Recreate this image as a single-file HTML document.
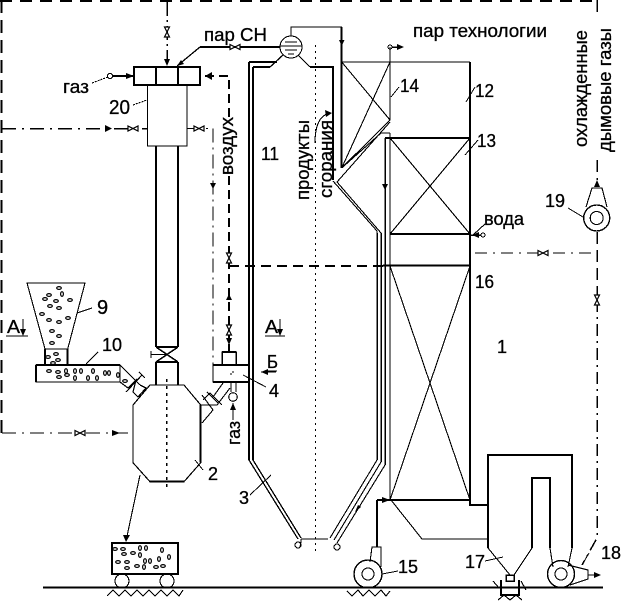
<!DOCTYPE html>
<html><head><meta charset="utf-8"><style>
html,body{margin:0;padding:0;background:#fff}
svg{display:block}
text{font-family:"Liberation Sans",sans-serif;font-size:18px;fill:#000;stroke:#000;stroke-width:.3px}
</style></head><body>
<svg width="621" height="602" viewBox="0 0 621 602" xmlns="http://www.w3.org/2000/svg">
<defs>
<g id="vh"><path d="M-5,-2.5 L5,2.5 L5,-2.5 L-5,2.5 Z" fill="#fff" stroke="#000" stroke-width="1.2"/></g>
<g id="vv"><path d="M-2.5,-5 L2.5,5 L-2.5,5 L2.5,-5 Z" fill="#fff" stroke="#000" stroke-width="1.2"/></g>
<ellipse id="p" cx="0" cy="0" rx="2.3" ry="1.4" fill="#fff" stroke="#000" stroke-width="1.2"/>
<ellipse id="q" cx="0" cy="0" rx="1.4" ry="2.3" fill="#fff" stroke="#000" stroke-width="1.2"/>
</defs>
<g fill="none" stroke="#000" stroke-width="1.1" shape-rendering="crispEdges">
<!-- outer dash lines -->
<path d="M0,1 H597" stroke-width="2" stroke-dasharray="12 8"/>
<path d="M1.500,0 V433" stroke-width="2.200" stroke-dasharray="13 7"/>
<path d="M167,2 V66" stroke-width="1.500" stroke-dasharray="14 4 2 4"/>
<path d="M597,0 V18 M597,160 V180 M597,232 V298" stroke-width="1.500" stroke-dasharray="12 6"/>
<path d="M597,300 V538 L582,565" stroke-width="1.500" stroke-dasharray="12 5 2 5"/>
<path d="M475,253 H597" stroke-dasharray="12 6 2 6"/>
<path d="M2,128.500 H147" stroke-width="1.500" stroke-dasharray="14 6 2 6"/>
<path d="M2,433 H133" stroke-dasharray="14 6 2 6"/>
<path d="M187,128.500 H213 V365" stroke-dasharray="14 5 2 5"/>
<path d="M205,76 H229 V117" stroke-width="1.800" stroke-dasharray="9 5"/>
<path d="M229,176 V352" stroke-width="1.800" stroke-dasharray="9 5"/>
<path d="M229,266 H383" stroke-width="1.800" stroke-dasharray="10 6"/>
<!-- dotted centre lines -->
<path d="M166.700,379 V489" stroke-dasharray="3 4"/>
<path d="M315.500,45 V553" stroke-dasharray="2 4"/>
<path d="M231,375 V372 H236" stroke-dasharray="2 2"/>

<!-- steam -->
<path d="M200,47 H280" stroke-width="2"/>
<path d="M200,47 L177,66" stroke-width="1.300"/>
<path d="M291,36 V27 H342" stroke-width="1.100"/>
<circle cx="291" cy="47" r="11" fill="#fff"/>
<path d="M280,46 H302 M285,42 H297 M285,50 H297 M288,54 H294" stroke-width="1"/>

<!-- burner 20 -->
<rect x="134" y="67" width="66" height="18" stroke-width="2"/>
<path d="M156,67 V85 M178,67 V85" stroke-width="2"/>
<rect x="147.500" y="85" width="39.500" height="61" stroke-width="1.200"/>
<path d="M156,146 V347 M178,146 V347" stroke-width="2"/>
<path d="M156,347 L178,362 M178,347 L156,362" stroke-width="1.500"/>
<path d="M156,362 V385 M178,362 V385 M156,347 H178 M156,362 H178" stroke-width="2"/>
<path d="M151,354.500 H167 M151,351 V358" stroke-width="1.100"/>
<path d="M110,76 H134" stroke-width="1.600"/>
<circle cx="110" cy="76" r="2.500" fill="#fff"/>
<path d="M92,83 L108,77 M133,105 L147,100" stroke-dasharray="2 1"/>

<!-- reactor 2 -->
<path d="M150,385 H184 L200.700,405 V462.700 L184,481.700 H150 L133,462.700 V405 Z" fill="none" stroke-width="1.200"/>
<path d="M150,481.700 H184 M200.700,405 V462.700" stroke-width="2"/>
<path d="M140,475 L126,541"/>

<!-- bin 9 and screw 10 -->
<path d="M27,283 H85 L67.700,349 H45 Z" stroke-width="1.100"/>
<path d="M45,349 V365 M67.700,349 V365" stroke-width="2"/>
<rect x="36" y="365" width="84" height="17" stroke-width="1.300"/>
<path d="M36,365 H120 M36,365 V382" stroke-width="2"/>
<path d="M120,365 L140,385 M120,382 L128,388 M133,392 L138,397 L146,388 L140,385 M126,392 L142,375 M139,372 L145,378" stroke-width="1.200"/>
<path d="M128,388 L136,380 L133,392" stroke-width="1.200"/>

<!-- burner 4 -->
<rect x="222" y="352" width="14" height="13" stroke-width="1.500"/>
<rect x="213" y="365" width="36" height="17" stroke-width="1.300"/>
<path d="M213,382 H249 M222,352 H236 M213,365 H249" stroke-width="2"/>
<path d="M231,382 V392 M236,382 V392" stroke-width="1.300"/>
<circle cx="233" cy="397" r="4.300" fill="#fff"/>
<path d="M233,403 V420"/>
<path d="M223,383 L213,397 M230,388 L217,405 H200.700 M213,410 L202,423 M202,395 L213,410 M207,392 L218,403 M203,400 L210,393 M222,405 L210,393" stroke-width="1.100"/>

<!-- furnace -->
<path d="M249,460 L298,539 M253,460 L301,538" stroke-width="1.300"/>
<path d="M270,67 L283,55" stroke-width="1.300"/>
<path d="M249,62 H277 M253,67 H270 M249,62 V460 M253,67 V460" stroke-width="2"/>
<circle cx="298" cy="545" r="3" fill="#fff"/>
<path d="M301,539 H328 M300,547 Q301,542 301,539"/>
<path d="M298,55 L310,67" stroke-width="1.200"/>
<path d="M310,67 H333 V180" stroke-width="2"/>
<path d="M341.700,27 V168" stroke-width="2"/>
<path d="M341,62 H470" stroke-width="1.100"/>
<path d="M470,62 V500 V505 H488" stroke-width="2"/>

<!-- 14 -->
<path d="M341.700,62 L390,120 L341.700,168 L390,62 M390,47 V120"/>
<path d="M341.700,168 L381,133 H390 M337,182 L390,122 M333,181 L377,231"/>
<path d="M377,231 V460 L330,538" />
<path d="M337,182 L381,233 V462 L334,540"/>
<path d="M385,138 V465 L337,543"/>
<path d="M377,233 V460 M381,233 V462 M385,138 V465" stroke-width="1.500"/>
<path d="M390,133 V500"/>
<circle cx="390" cy="47" r="2"/>
<path d="M392,47 H402" stroke-width="1.500"/>
<circle cx="337" cy="547" r="3" fill="#fff"/>

<!-- 13 and 16 -->
<path d="M385,138 H470 M390,234 H470 M383,265.700 H470" stroke-width="2"/>
<path d="M390,138 L470,234 M470,138 L390,234 M390,266 L470,500 M470,266 L390,500"/>
<circle cx="483" cy="235" r="2"/>
<path d="M470,235 H481" stroke-width="1.500"/>
<path d="M473,235 L485,224"/>
<path d="M377,500 H470" stroke-width="2"/>
<path d="M377,500 V547" stroke-width="2"/>
<path d="M391,500 L422,539 H488"/>

<!-- fan 15 -->
<circle cx="368" cy="574" r="14" fill="#fff" stroke-width="1.400"/>
<circle cx="368" cy="574" r="6"/>
<path d="M370,562 L372,547 H381 V567"/>

<!-- cyclone 17 -->
<path d="M488,548 V455 H572 V548 M532,548 V478 H550 V548" stroke-width="2"/>
<path d="M488,548 L510,575 M532,548 L514,575 M550,548 L553,567 M572,548 L568,567"/>
<rect x="506" y="575" width="8" height="6" stroke-width="1.500"/>
<path d="M501,580 V595 H519 V580" stroke-width="2"/>

<!-- fan 18 -->
<circle cx="561" cy="574" r="13.500" fill="none" stroke-width="1.400"/>
<circle cx="561" cy="574" r="6"/>
<path d="M568,565 L588,570 V579 L570,585 M588,575 H598"/>

<!-- fan 19 -->
<circle cx="596.700" cy="218" r="13" stroke-width="1.400"/>
<circle cx="596.700" cy="218" r="6.500"/>
<path d="M586,207 L592,188 H602 L607,207"/>

<!-- cart -->
<rect x="112" y="543" width="66" height="31" stroke-width="2"/>
<circle cx="122" cy="581" r="7"/>
<circle cx="167" cy="581" r="7"/>

<!-- ground -->
<path d="M43,587.500 H603" stroke-width="2"/>
<path d="M107,596 L113,590 L119,596 L125,590 L131,596 L137,590 L143,596 L149,590 L155,596 L161,590 L167,596 L173,590 L179,596 L183,590"/>
<path d="M347,591 L352,596 L358,590 L363,596 L369,590 L375,596 L381,590 L386,596 L390,591"/>
<path d="M493,581 L499,588 M521,581 L526,590 M498,600 L504,595 L510,600 L516,595 L522,600"/>

<!-- leaders -->
<path d="M391,97 L399,87 M466,102 L475,87 M465,155 L478,140 M568,208 L583,217 M382,574 L398,571 M485,561 L503,557 M77,313 L92,308 M86,364 L98,352 M195,460 L203,470 M250,495 L271,475 M243,375 L266,387 M582,565 L589,553" stroke-width="1"/>

<!-- curved -->
<path d="M315,143 Q315,116 330,113"/>

<!-- A / Б -->
<path d="M6,336 H28 M23,319 V333 M265,336 H285 M280,319 V333 M267,371 H277 M261,372 H276"/>
</g>

<!-- arrowheads -->
<g fill="#000" stroke="none">
<path d="M167,66 L164,59 H170 Z M177,66 L181,60 L184,64 Z M134,76 L126,73 V79 Z M112,128.500 L105,125 V132 Z M205,76 L212,72 V80 Z"/>
<path d="M213,189 L210,183 H216 Z M229,345 L226,338 H232 Z M229,294 L226,300 H232 Z M233,403 L230,410 H236 Z M126,542 L123,535 H130 Z"/>
<path d="M23,336 L20,329 H26 Z M280,336 L277,329 H283 Z M261,372 L268,369 V375 Z"/>
<path d="M120,433 L112,430 V436 Z M341.700,46 L339,40 H344.500 Z M385,190 L382,184 H388 Z M332,113 L325,110 L326,117 Z M404,47 L397,44 V50 Z"/>
<path d="M472,235 L479,232 V238 Z M597,180 L594,187 H600 Z M601,575 L594,572 V578 Z M390,500 L382,497 V503 Z M355,512 L358,505 L361,507 Z"/>
</g>

<!-- valves -->
<use href="#vv" x="167" y="32"/>
<use href="#vh" x="235" y="47"/>
<use href="#vh" x="133" y="128.500"/>
<use href="#vh" x="199" y="128.500"/>
<use href="#vv" x="229" y="258"/>
<use href="#vv" x="229" y="330"/>
<use href="#vh" x="80" y="433"/>
<use href="#vh" x="543" y="253"/>
<use href="#vv" x="597" y="300"/>

<!-- particles -->
<use href="#p" x="59" y="288"/><use href="#p" x="49" y="295"/><use href="#q" x="62" y="294"/><use href="#p" x="45" y="299"/><use href="#p" x="56" y="301"/><use href="#p" x="70" y="300"/><use href="#p" x="50" y="306"/><use href="#p" x="59" y="308"/><use href="#p" x="68" y="318"/>
<use href="#p" x="42" y="314"/><use href="#p" x="49" y="320"/><use href="#p" x="59" y="322"/><use href="#p" x="52" y="331"/><use href="#p" x="59" y="336"/><use href="#p" x="52" y="343"/>
<use href="#p" x="56" y="354"/><use href="#p" x="48" y="357"/><use href="#p" x="58" y="360"/><use href="#p" x="53" y="363"/>
<use href="#p" x="49" y="371"/><use href="#p" x="58" y="372"/><use href="#q" x="66" y="371"/><use href="#p" x="59" y="377"/><use href="#p" x="67" y="375"/><use href="#q" x="75" y="371"/><use href="#q" x="81" y="371"/><use href="#q" x="75" y="378"/><use href="#q" x="93" y="371"/><use href="#q" x="88" y="378"/><use href="#q" x="97" y="378"/><use href="#q" x="105" y="373"/><use href="#q" x="109" y="373"/><use href="#q" x="118" y="375"/><use href="#p" x="125" y="381"/>
<use href="#p" x="115" y="549"/><use href="#p" x="123" y="549"/><use href="#q" x="140" y="548"/><use href="#q" x="146" y="548"/><use href="#q" x="162" y="550"/><use href="#q" x="169" y="557"/><use href="#p" x="124" y="554"/><use href="#p" x="133" y="553"/><use href="#q" x="140" y="555"/><use href="#p" x="118" y="562"/><use href="#p" x="127" y="562"/><use href="#q" x="145" y="561"/><use href="#q" x="150" y="561"/><use href="#q" x="159" y="559"/><use href="#p" x="127" y="568"/><use href="#p" x="137" y="566"/><use href="#q" x="144" y="567"/><use href="#p" x="156" y="567"/><use href="#p" x="163" y="566"/>

<!-- labels -->
<text x="204" y="41" textLength="63" lengthAdjust="spacingAndGlyphs">пар СН</text>
<text x="413" y="37" textLength="134" lengthAdjust="spacingAndGlyphs">пар технологии</text>
<text x="63" y="93" textLength="26" lengthAdjust="spacingAndGlyphs">газ</text>
<text x="109" y="114" textLength="21" lengthAdjust="spacingAndGlyphs" style="font-size:20px">20</text>
<text x="261" y="160" textLength="18" lengthAdjust="spacingAndGlyphs">11</text>
<text x="400" y="92" textLength="19" lengthAdjust="spacingAndGlyphs">14</text>
<text x="475" y="97" textLength="19" lengthAdjust="spacingAndGlyphs">12</text>
<text x="477" y="147" textLength="19" lengthAdjust="spacingAndGlyphs">13</text>
<text x="484" y="225" textLength="40" lengthAdjust="spacingAndGlyphs">вода</text>
<text x="545" y="207" textLength="20" lengthAdjust="spacingAndGlyphs">19</text>
<text x="475" y="288" textLength="19" lengthAdjust="spacingAndGlyphs">16</text>
<text x="497" y="353">1</text>
<text x="398" y="573" textLength="20" lengthAdjust="spacingAndGlyphs">15</text>
<text x="465" y="568" textLength="20" lengthAdjust="spacingAndGlyphs">17</text>
<text x="601" y="559" textLength="20" lengthAdjust="spacingAndGlyphs">18</text>
<text x="97" y="314" style="font-size:20px">9</text>
<text x="102" y="351" textLength="20" lengthAdjust="spacingAndGlyphs">10</text>
<text x="208" y="480">2</text>
<text x="239" y="504">3</text>
<text x="269" y="397">4</text>
<text x="7" y="333" textLength="13" lengthAdjust="spacingAndGlyphs">А</text>
<text x="265" y="333" textLength="13" lengthAdjust="spacingAndGlyphs">А</text>
<text x="267" y="368" textLength="11" lengthAdjust="spacingAndGlyphs">Б</text>
<text transform="translate(233,175) rotate(-90)" textLength="58" lengthAdjust="spacingAndGlyphs">воздух</text>
<text transform="translate(309,200) rotate(-90)" textLength="80" lengthAdjust="spacingAndGlyphs">продукты</text>
<text transform="translate(332,198) rotate(-90)" textLength="78" lengthAdjust="spacingAndGlyphs">сгорания</text>
<text transform="translate(587,147) rotate(-90)" textLength="117" lengthAdjust="spacingAndGlyphs">охлажденные</text>
<text transform="translate(611,152) rotate(-90)" textLength="124" lengthAdjust="spacingAndGlyphs">дымовые газы</text>
<text transform="translate(240,445) rotate(-90)" textLength="24" lengthAdjust="spacingAndGlyphs">газ</text>
</svg>
</body></html>
